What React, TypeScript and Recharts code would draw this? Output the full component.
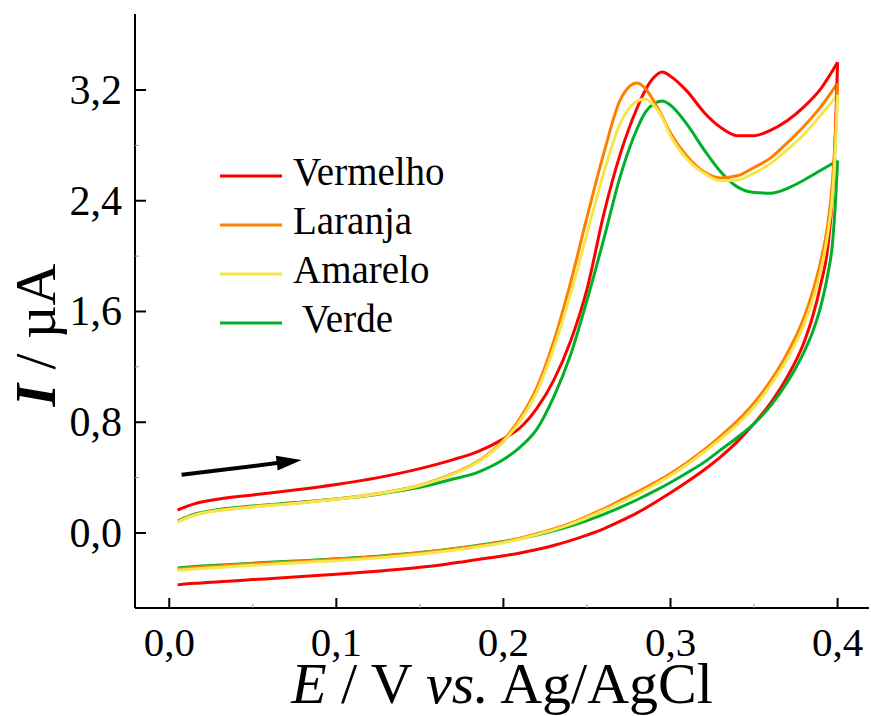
import { LineChart, Line, XAxis, YAxis, Legend, ReferenceLine } from 'recharts';

// potential grids (V vs Ag/AgCl) for the anodic (forward) and cathodic (reverse) scans
const forwardE = [0.005, 0.015, 0.03, 0.05, 0.075, 0.1, 0.125, 0.15, 0.17, 0.185, 0.2, 0.21, 0.22, 0.23, 0.24, 0.25, 0.26, 0.27, 0.28, 0.285, 0.29, 0.295, 0.3, 0.31, 0.32, 0.33, 0.34, 0.35, 0.36, 0.37, 0.38, 0.39, 0.4];
const reverseE = [0.4, 0.399, 0.397, 0.394, 0.39, 0.385, 0.38, 0.37, 0.36, 0.35, 0.34, 0.33, 0.32, 0.31, 0.3, 0.29, 0.28, 0.27, 0.26, 0.25, 0.24, 0.23, 0.22, 0.21, 0.2, 0.18, 0.16, 0.14, 0.12, 0.1, 0.075, 0.05, 0.03, 0.015, 0.005];

// current (uA)
const vermelhoFwd = [0.166, 0.21, 0.245, 0.275, 0.31, 0.35, 0.4, 0.465, 0.53, 0.59, 0.68, 0.76, 0.9, 1.1, 1.38, 1.76, 2.3, 2.74, 3.07, 3.2, 3.29, 3.33, 3.3, 3.19, 3.04, 2.93, 2.87, 2.87, 2.91, 2.98, 3.08, 3.21, 3.4];
const laranjaFwd = [0.082, 0.13, 0.165, 0.19, 0.215, 0.245, 0.285, 0.345, 0.43, 0.52, 0.67, 0.83, 1.05, 1.38, 1.8, 2.28, 2.74, 3.13, 3.25, 3.21, 3.12, 3.01, 2.89, 2.72, 2.61, 2.565, 2.58, 2.64, 2.71, 2.82, 2.94, 3.08, 3.25];
const amareloFwd = [0.08, 0.128, 0.163, 0.188, 0.213, 0.243, 0.283, 0.343, 0.425, 0.515, 0.66, 0.81, 1.02, 1.33, 1.72, 2.16, 2.6, 2.96, 3.12, 3.135, 3.09, 3.0, 2.87, 2.7, 2.6, 2.545, 2.55, 2.6, 2.67, 2.77, 2.88, 3.02, 3.165];
const verdeFwd = [0.085, 0.135, 0.17, 0.195, 0.22, 0.245, 0.28, 0.33, 0.39, 0.44, 0.53, 0.62, 0.75, 0.98, 1.28, 1.68, 2.12, 2.58, 2.92, 3.04, 3.1, 3.12, 3.09, 2.95, 2.77, 2.61, 2.5, 2.46, 2.455, 2.49, 2.55, 2.62, 2.69];

const vermelhoRev = [3.4, 3.0, 2.45, 2.05, 1.8, 1.56, 1.38, 1.13, 0.94, 0.79, 0.66, 0.55, 0.455, 0.37, 0.29, 0.215, 0.145, 0.085, 0.03, -0.015, -0.055, -0.09, -0.12, -0.145, -0.165, -0.2, -0.235, -0.26, -0.28, -0.298, -0.318, -0.337, -0.352, -0.364, -0.375];
const laranjaRev = [3.25, 2.95, 2.55, 2.22, 1.97, 1.74, 1.56, 1.3, 1.1, 0.94, 0.81, 0.7, 0.6, 0.51, 0.43, 0.36, 0.295, 0.235, 0.175, 0.12, 0.07, 0.03, -0.005, -0.037, -0.065, -0.1, -0.13, -0.155, -0.175, -0.19, -0.207, -0.223, -0.238, -0.25, -0.26];
const amareloRev = [3.165, 2.85, 2.45, 2.15, 1.9, 1.68, 1.51, 1.26, 1.07, 0.91, 0.785, 0.68, 0.585, 0.495, 0.415, 0.345, 0.28, 0.22, 0.163, 0.11, 0.062, 0.022, -0.012, -0.043, -0.07, -0.108, -0.14, -0.165, -0.185, -0.2, -0.217, -0.234, -0.249, -0.26, -0.27];
const verdeRev = [2.69, 2.45, 2.1, 1.86, 1.64, 1.45, 1.31, 1.09, 0.92, 0.79, 0.69, 0.6, 0.51, 0.435, 0.365, 0.3, 0.24, 0.185, 0.135, 0.09, 0.05, 0.015, -0.015, -0.04, -0.062, -0.098, -0.128, -0.152, -0.172, -0.187, -0.203, -0.218, -0.232, -0.243, -0.253];

const xTicks = [0, 0.05, 0.1, 0.15, 0.2, 0.25, 0.3, 0.35, 0.4];
const yTicks = [0, 0.4, 0.8, 1.2, 1.6, 2.0, 2.4, 2.8, 3.2];

// scan direction arrow (data coords)
const arrowFrom = { E: 0.0074, I: 0.42 };
const arrowTo = { E: 0.0792, I: 0.527 };

const FONT = '"Liberation Serif", "Times New Roman", serif';

const series = [
  { name: 'Vermelho', color: '#ff0000', fwd: vermelhoFwd, rev: vermelhoRev },
  { name: 'Laranja', color: '#ff8000', fwd: laranjaFwd, rev: laranjaRev },
  { name: 'Amarelo', color: '#f5e64b', fwd: amareloFwd, rev: amareloRev },
  { name: 'Verde', color: '#00b02c', fwd: verdeFwd, rev: verdeRev },
];
// draw order: red under the others, yellow on top
const drawOrder = ['Vermelho', 'Verde', 'Laranja', 'Amarelo'];

const toPoints = (es: number[], is: number[]) => es.map((E, i) => ({ E, I: is[i] }));

const fmt = (v: number) => v.toFixed(1).replace('.', ',');
const isMajor = (v: number, step: number) => Math.abs(v / step - Math.round(v / step)) < 1e-6;

const XTick = (props: any) => {
  const { x, y, payload } = props;
  const major = isMajor(payload.value, 0.1);
  return (
    <g>
      <line x1={x} x2={x} y1={y} y2={y - (major ? 10 : 4)} stroke={major ? '#000' : '#999'} strokeWidth={major ? 2 : 1} />
      {major && (
        <text x={x} y={y + 48} textAnchor="middle" fontSize={41} fontFamily={FONT} fill="#000">
          {fmt(payload.value)}
        </text>
      )}
    </g>
  );
};

const YTick = (props: any) => {
  const { x, y, payload } = props;
  const major = isMajor(payload.value, 0.8);
  return (
    <g>
      <line x1={x} x2={x + (major ? 11 : 4)} y1={y} y2={y} stroke={major ? '#000' : '#999'} strokeWidth={major ? 2 : 1} />
      {major && (
        <text x={x - 13} y={y + 14} textAnchor="end" fontSize={42} fontFamily={FONT} fill="#000">
          {fmt(payload.value)}
        </text>
      )}
    </g>
  );
};

const Arrow = (props: any) => {
  const { x1, y1, x2, y2 } = props;
  if (x1 == null || x2 == null) return null;
  const ang = Math.atan2(y2 - y1, x2 - x1);
  const len = 25;
  const hw = 7.5;
  const bx = x2 - len * Math.cos(ang);
  const by = y2 - len * Math.sin(ang);
  const px = -Math.sin(ang) * hw;
  const py = Math.cos(ang) * hw;
  return (
    <g>
      <line x1={x1} y1={y1} x2={bx + 2 * Math.cos(ang)} y2={by + 2 * Math.sin(ang)} stroke="#000" strokeWidth={4} />
      <polygon points={`${x2},${y2} ${bx + px},${by + py} ${bx - px},${by - py}`} fill="#000" />
    </g>
  );
};

const LegendBox = () => (
  <svg width={250} height={200} style={{ overflow: 'visible' }}>
    {series.map((s, i) => (
      <g key={s.name}>
        <line x1={5} x2={67} y1={26 + i * 49} y2={26 + i * 49} stroke={s.color} strokeWidth={3} />
        <text x={s.name === 'Verde' ? 87 : 78} y={35 + i * 49} fontSize={39} fontFamily={FONT} fill="#000">
          {s.name}
        </text>
      </g>
    ))}
  </svg>
);

export default function App() {
  const ordered = drawOrder.map((n) => series.find((s) => s.name === n)!);
  return (
    <div style={{ position: 'absolute', left: 0, top: 0, width: 871, height: 716, background: '#fff' }}>
      <LineChart width={871} height={716} margin={{ top: 14, right: 2, left: 0, bottom: 0 }}>
        <XAxis
          dataKey="E"
          type="number"
          domain={[-0.0205, 0.4188]}
          allowDataOverflow
          ticks={xTicks}
          interval={0}
          height={108}
          tickSize={0}
          tickMargin={0}
          tickLine={false}
          tick={<XTick />}
          axisLine={{ stroke: '#000', strokeWidth: 2 }}
          label={{
            content: () => (
              <text x={502} y={703} textAnchor="middle" fontSize={58} fontFamily={FONT} fill="#000" style={{ whiteSpace: 'pre' }}>
                <tspan fontStyle="italic">E</tspan>
                <tspan>{' / V '}</tspan>
                <tspan fontStyle="italic">vs.</tspan>
                <tspan>{' Ag/AgCl'}</tspan>
              </text>
            ),
          }}
        />
        <XAxis xAxisId="top" orientation="top" type="number" domain={[-0.0205, 0.4188]} height={0} tick={false} tickLine={false} axisLine={{ stroke: '#000', strokeWidth: 2 }} />
        <YAxis
          type="number"
          domain={[-0.542, 3.749]}
          allowDataOverflow
          ticks={yTicks}
          interval={0}
          width={135}
          tickSize={0}
          tickMargin={0}
          tickLine={false}
          tick={<YTick />}
          axisLine={{ stroke: '#000', strokeWidth: 2 }}
          label={{
            content: () => (
              <text x={55} y={335} transform="rotate(-90, 55, 335)" textAnchor="middle" fontSize={58} fontFamily={FONT} fill="#000" style={{ whiteSpace: 'pre' }}>
                <tspan fontStyle="italic" fontWeight="bold">I</tspan>
                <tspan>{' / µA'}</tspan>
              </text>
            ),
          }}
        />
        <YAxis yAxisId="right" orientation="right" type="number" domain={[-0.542, 3.749]} width={0} tick={false} tickLine={false} axisLine={{ stroke: '#000', strokeWidth: 2 }} />
        {ordered.map((s) => (
          <Line
            key={s.name + '-fwd'}
            data={toPoints(forwardE, s.fwd)}
            dataKey="I"
            name={s.name}
            type="monotone"
            stroke={s.color}
            strokeWidth={3}
            dot={false}
            isAnimationActive={false}
          />
        ))}
        {ordered.map((s) => (
          <Line
            key={s.name + '-rev'}
            data={toPoints(reverseE, s.rev).reverse()}
            dataKey="I"
            name={s.name + ' (reverse)'}
            legendType="none"
            type="monotone"
            stroke={s.color}
            strokeWidth={3}
            dot={false}
            isAnimationActive={false}
          />
        ))}
        <ReferenceLine
          segment={[
            { x: arrowFrom.E, y: arrowFrom.I },
            { x: arrowTo.E, y: arrowTo.I },
          ]}
          shape={<Arrow />}
        />
        <Legend
          layout="vertical"
          align="center"
          verticalAlign="middle"
          wrapperStyle={{ left: 215, top: 150, width: 250, height: 200 }}
          content={() => <LegendBox />}
        />
      </LineChart>
    </div>
  );
}
